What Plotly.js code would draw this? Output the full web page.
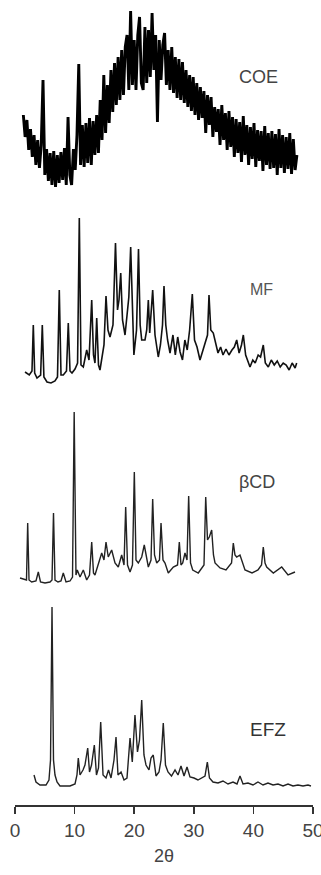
<!DOCTYPE html>
<html>
<head>
<meta charset="utf-8">
<script src="https://cdn.plot.ly/plotly-3.0.1.min.js"></script>
<style>html,body{margin:0;padding:0;background:#fff;}#chart{width:321px;height:875px;}</style>
</head>
<body>
<div id="chart"></div>
<script>
// Sample names
var sampleNames = ["COE", "MF", "βCD", "EFZ"];
var xTickVals = [0, 10, 20, 30, 40, 50];
var xTickText = ["0", "10", "20", "30", "40", "50"];

// COE: amorphous, noisy (uniform 2θ sampling starting 1.4, step 0.3)
var coeStart = 1.4, coeStep = 0.3;
var coeY = [80,58,75,45,66,38,60,30,55,27,
 50,115,20,46,14,42,10,44,8,40,
 12,43,15,47,10,78,20,10,46,25,
 60,131,30,70,28,72,32,77,30,74,
 40,80,42,95,55,120,62,110,72,125,
 83,132,90,138,95,145,100,148,160,105,
 184,110,155,105,160,178,112,105,168,112,
 165,118,182,125,160,73,155,115,150,162,
 110,145,105,148,102,138,97,136,95,133,
 92,125,88,120,84,118,80,112,75,108,
 77,104,62,100,70,98,58,88,63,86,
 50,90,55,82,45,84,48,78,38,76,
 42,73,33,79,40,70,30,68,36,72,
 28,65,34,64,24,69,30,62,26,64,
 27,61,20,66,27,60,22,58,26,62,
 21,56,25,40];

// MF
var mfX = [1.68,2.4,2.85,3.07,3.3,3.69,4.3,4.58,4.85,5.37,6.04,6.71,7.13,7.43,7.72,8.10,8.64,8.94,9.23,9.56,10.07,10.5,10.79,11.07,11.46,12.03,12.42,12.87,13.17,13.42,13.71,14.01,14.26,14.7,14.93,15.27,15.6,15.94,16.44,16.86,17.2,17.45,17.74,18.04,18.46,18.8,19.1,19.41,19.7,19.95,20.39,20.72,21.0,21.26,21.81,22.1,22.37,22.6,23.10,23.49,24.04,24.4,24.75,25.0,25.3,25.6,26.01,26.5,26.9,27.3,27.7,28.1,28.5,28.9,29.3,29.75,30.12,30.54,31.04,31.5,31.88,32.3,32.55,32.85,33.27,33.7,34.06,34.5,34.9,35.4,35.9,36.4,36.8,37.2,37.6,38.0,38.31,38.7,39.0,39.43,39.9,40.3,40.8,41.2,41.66,42.0,42.5,43.0,43.5,44.0,44.5,45.0,45.5,46.0,46.5,47.0,47.26];
var mfY = [13,10,14,60,12,7,10,60,8,3,2,4,8,95,10,10,14,62,14,12,16,22,167,20,18,35,25,85,30,22,67,20,15,35,40,89,55,48,60,142,75,85,112,65,50,70,88,138,70,30,55,136,60,45,45,55,85,52,95,50,28,40,60,99,60,45,32,50,30,48,33,25,45,35,55,91,45,38,25,35,42,50,90,55,52,40,32,38,30,36,30,35,38,45,32,40,50,30,25,18,25,22,30,28,40,22,18,25,20,24,18,22,20,15,22,17,22];

// βCD
var bcdX = [0.84,1.93,2.13,2.35,2.80,3.52,3.91,4.28,5.03,5.87,6.21,6.46,6.71,7.21,7.72,8.10,8.56,9.23,9.65,9.93,10.23,10.45,10.91,11.46,12.03,12.5,12.87,13.17,13.42,13.98,14.55,14.93,15.27,15.65,16.22,16.78,17.33,17.9,18.29,18.57,18.88,19.30,19.71,20.02,20.30,20.69,21.26,21.69,22.37,22.82,23.10,23.41,23.78,24.24,24.50,24.83,25.17,25.72,26.56,27.27,27.57,27.85,28.14,28.52,28.86,29.14,29.45,29.82,30.75,31.71,32.00,32.30,32.6,33.0,33.3,33.56,34.40,35.40,36.33,36.63,36.91,37.2,37.75,38.59,39.77,40.77,41.36,41.66,41.95,42.23,43.34,44.75,45.81,46.98];
var bcdY = [7,5,62,5,3,4,13,3,2,3,5,72,5,3,4,12,3,4,8,173,10,15,8,15,5,10,43,12,10,22,32,25,43,28,35,22,18,30,20,78,20,13,20,113,25,22,28,40,18,25,86,30,22,25,62,25,22,12,18,20,43,20,22,32,25,89,22,15,12,20,88,45,48,55,30,22,17,15,22,42,30,28,30,15,12,15,20,38,22,18,12,18,10,13];

// EFZ
var efzX = [3.19,3.52,4.19,5.20,5.70,5.96,6.21,6.46,6.71,7.05,7.55,9.23,10.07,10.40,10.62,10.91,11.41,11.74,12.20,12.50,12.84,13.31,13.67,14.01,14.38,14.77,15.27,15.69,16.11,16.61,16.95,17.28,17.79,18.29,18.79,19.30,19.68,20.13,20.55,20.89,21.26,21.64,21.98,22.48,22.82,23.20,23.66,24.16,24.50,24.88,25.25,25.67,26.26,26.85,27.35,27.85,28.36,28.86,29.36,30.03,30.70,31.38,31.88,32.27,32.63,33.22,34.06,34.90,35.74,36.58,37.25,37.75,38.26,39.09,39.93,40.77,41.61,42.45,43.29,44.13,44.97,45.81,46.64,47.48,48.32,49.16,49.66];
var efzY = [15,8,5,5,10,30,183,30,15,8,4,4,6,15,32,15,20,25,42,18,25,45,15,22,68,15,12,20,12,30,53,15,18,10,12,52,28,75,38,50,90,35,25,20,32,35,14,18,30,67,25,18,14,20,15,24,14,23,13,12,10,12,14,28,12,8,7,9,6,8,6,14,6,7,5,8,5,7,5,6,4,6,4,5,4,5,4];

var traces = [
  {type:"scatter", mode:"lines", x0:coeStart, dx:coeStep, y:coeY, yaxis:"y4", name:sampleNames[0],
   line:{color:"#000", width:2.9}},
  {type:"scatter", mode:"lines", x:mfX, y:mfY, yaxis:"y3", name:sampleNames[1],
   line:{color:"#111", width:1.6}},
  {type:"scatter", mode:"lines", x:bcdX, y:bcdY, yaxis:"y2", name:sampleNames[2],
   line:{color:"#222", width:1.4}},
  {type:"scatter", mode:"lines", x:efzX, y:efzY, yaxis:"y", name:sampleNames[3],
   line:{color:"#222", width:1.4}}
];

var hiddenY = {visible:false, showgrid:false, zeroline:false, fixedrange:true};
var layout = {
  width:321, height:875,
  margin:{l:15, r:8, t:5, b:70},
  paper_bgcolor:"#fff", plot_bgcolor:"#fff",
  showlegend:false,
  font:{family:"Liberation Sans, Arial, sans-serif", color:"#333"},
  xaxis:{range:[0,50], tickvals:xTickVals, ticktext:xTickText, ticks:"outside", ticklen:7, tickwidth:1.5,
         tickcolor:"#333", showline:true, linecolor:"#333", linewidth:2, showgrid:false, zeroline:false,
         ticklabeloverflow:"allow",
         tickfont:{size:19, color:"#444"}, title:{text:"2θ", font:{size:18, color:"#444"}, standoff:10}},
  yaxis: Object.assign({range:[-15,785]}, hiddenY),
  yaxis2: Object.assign({range:[-220,580], overlaying:"y"}, hiddenY),
  yaxis3: Object.assign({range:[-420,380], overlaying:"y"}, hiddenY),
  yaxis4: Object.assign({range:[-610,190], overlaying:"y"}, hiddenY),
  annotations:[
    {text:sampleNames[0], x:40.8, y:0.925, xref:"x", yref:"paper", showarrow:false, font:{size:18, color:"#444"}},
    {text:sampleNames[1], x:41.4, y:0.644, xref:"x", yref:"paper", showarrow:false, font:{size:16, color:"#555"}},
    {text:sampleNames[2], x:40.6, y:0.404, xref:"x", yref:"paper", showarrow:false, font:{size:18, color:"#444"}},
    {text:sampleNames[3], x:42.4, y:0.079, xref:"x", yref:"paper", showarrow:false, font:{size:19, color:"#333"}}
  ]
};
Plotly.newPlot("chart", traces, layout, {displayModeBar:false, staticPlot:true});
</script>
</body>
</html>
